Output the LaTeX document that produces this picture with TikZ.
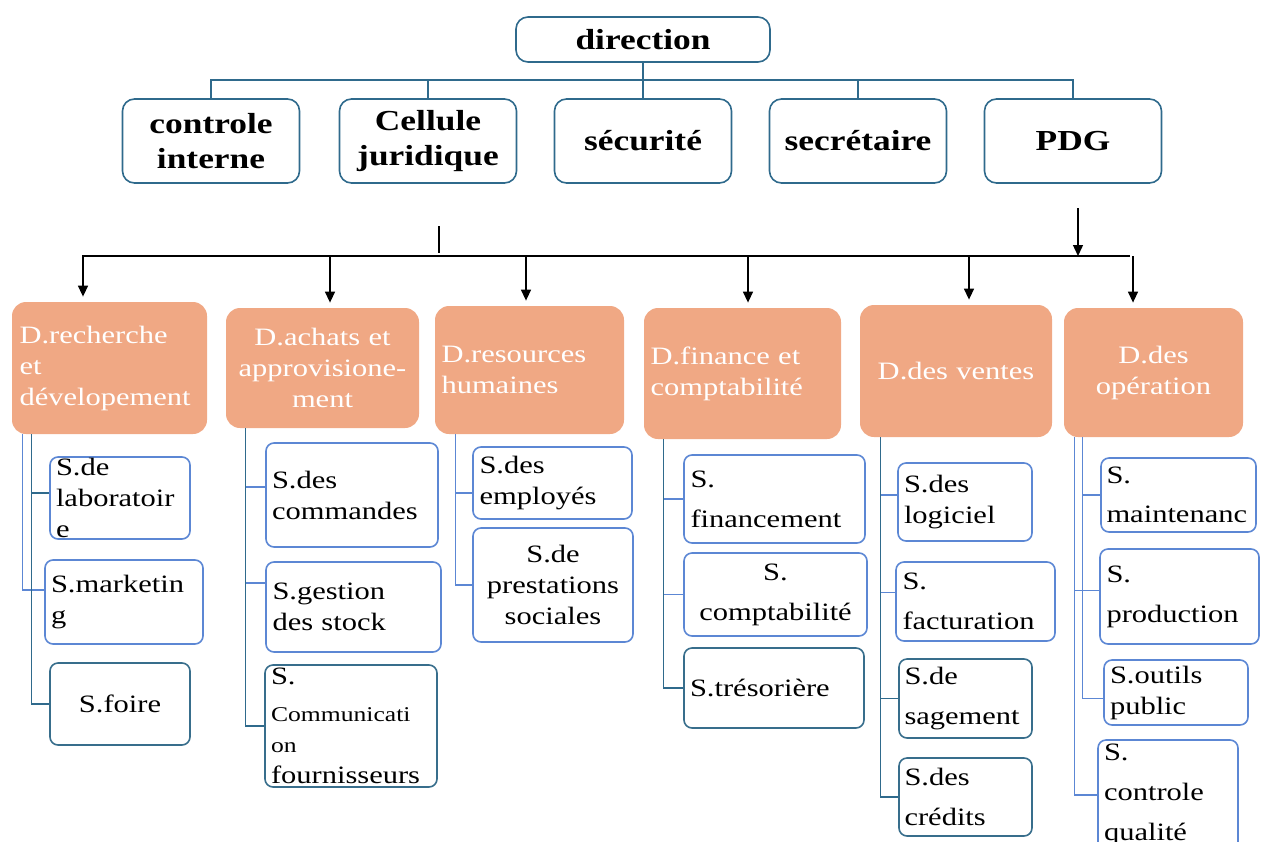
\documentclass[tikz,border=0pt]{standalone}
\usepackage{fontspec}
\setmainfont[FakeStretch=1.22]{Liberation Serif}
\usetikzlibrary{arrows.meta}
\definecolor{toplc}{RGB}{47,106,140}
\definecolor{deptfill}{RGB}{240,168,132}
\definecolor{sblue}{RGB}{92,135,212}
\definecolor{steal}{RGB}{56,110,140}

\begin{document}
\begin{tikzpicture}[x=0.5pt,y=-0.5pt]
	\tikzset{
		topbox/.style={draw=toplc,line width=0.8pt,rounded corners=6pt,minimum width=88.5pt,minimum height=42pt,align=center,font=\fontsize{14.5}{17.5}\selectfont\bfseries},
		dept/.style={fill=deptfill,text=white,rounded corners=7pt,inner sep=3pt,font=\fontsize{12.5}{15.5}\selectfont},
		sbox/.style={draw=sblue,fill=white,line width=0.8pt,rounded corners=4pt,inner xsep=2.5pt,inner ysep=-2pt,align=left,font=\fontsize{12.5}{15.5}\selectfont},
		sboxt/.style={sbox,draw=steal},
		tline/.style={draw=toplc,line width=0.75pt},
		sline/.style={draw=sblue,line width=0.7pt},
		arr/.style={-{Triangle[width=5pt,length=5.5pt]},line width=0.7pt}
	}
	\useasboundingbox (0,0) rectangle (1263,841);
	\node[topbox,minimum width=127pt,minimum height=22.5pt] (dir) at (643,39.5) {direction};
	\node[topbox] (ci)   at (211,141)  {controle\\interne};
	\node[topbox] (cj)   at (428,141)  {Cellule\\juridique};
	\node[topbox] (sec)  at (643,141)  {sécurité};
	\node[topbox] (secr) at (858,141)  {secrétaire};
	\node[topbox] (pdg)  at (1073,141) {PDG};
	\coordinate (tbus) at (643,80);
	\draw[tline] (dir.south) -- (tbus);
	\foreach \n in {ci,cj,sec,secr,pdg}
		\draw[tline] (\n.north) |- (tbus);
	\coordinate (busL) at (82,256);
	\coordinate (busR) at (1130,256);
	\coordinate (cjout) at (439,226);
	\coordinate (pdgout) at (1078,208);
	\draw[line width=0.8pt] (busL) -- (busR);
	\draw[line width=0.8pt] (cjout) -- ([yshift=1.5pt]cjout |- busL);
	\draw[arr] (pdgout) -- (pdgout |- busL);
	\node[dept,minimum width=97.5pt,minimum height=66pt,text width=90pt,align=left]   (rd)  at (109.5,368)  {D.recherche\\et\\dévelopement};
	\node[dept,minimum width=96.5pt,minimum height=60pt,text width=90pt,align=center] (ach) at (322.5,368)  {D.achats et\\approvisione-\\ment};
	\node[dept,minimum width=94.5pt,minimum height=64pt,text width=88pt,align=left]   (rh)  at (529.5,370)  {D.resources\\humaines};
	\node[dept,minimum width=98.5pt,minimum height=65.5pt,text width=92pt,align=left] (fin) at (742.5,373.5) {D.finance et\\comptabilité};
	\node[dept,minimum width=96pt,minimum height=66pt,text width=90pt,align=center]   (ven) at (956,371)    {D.des ventes};
	\node[dept,minimum width=89.5pt,minimum height=64.5pt,text width=83pt,align=center] (op) at (1153.5,372.5) {D.des\\opération};
	\foreach \d/\dx in {rd/-13.25,ach/3.75,rh/-1.75,fin/2.75,ven/6.5,op/-10.25}{
		\path ([xshift=\dx pt]\d.north) coordinate (t);
		\draw[arr] (t |- busL) -- ([yshift=2.5pt]t);
	}
	\node[sbox,minimum width=70pt,minimum height=41pt,text width=64pt] (lab) at (120,498) {S.de\\laboratoir\\e};
	\node[sbox,minimum width=79pt,minimum height=42pt,text width=73pt] (mkt) at (124,602) {S.marketin\\g};
	\node[sboxt,minimum width=70pt,minimum height=41pt,text width=64pt,align=center] (foi) at (120,704) {S.foire};
	\node[sbox,minimum width=86pt,minimum height=52pt,text width=80pt] (cmd) at (352,495) {S.des\\commandes};
	\node[sbox,minimum width=87.5pt,minimum height=45pt,text width=81pt] (stk) at (353.5,607) {S.gestion\\des stock};
	\node[sboxt,minimum width=86pt,minimum height=61pt,text width=80pt] (com) at (351,726) {S.\\[3pt]{\fontsize{10.5}{13}\selectfont Communicati}\\{\fontsize{10.5}{13}\selectfont on}\\fournisseurs};
	\node[sbox,minimum width=79.5pt,minimum height=36pt,text width=73pt] (emp) at (552.5,483) {S.des\\employés};
	\node[sbox,minimum width=80pt,minimum height=57pt,text width=74pt,align=center] (pst) at (553,585) {S.de\\prestations\\sociales};
	\node[sbox,minimum width=90.5pt,minimum height=44pt,text width=84pt] (fnc) at (774.5,499) {S.\\[4.5pt]financement};
	\node[sbox,minimum width=91.5pt,minimum height=41.5pt,text width=85pt,align=center] (cpt) at (775.5,594.5) {S.\\[4.5pt]comptabilité};
	\node[sboxt,minimum width=90pt,minimum height=40pt,text width=84pt] (tre) at (774,688) {S.trésorière};
	\node[sbox,minimum width=67pt,minimum height=39pt,text width=61pt] (log) at (965,502) {S.des\\logiciel};
	\node[sbox,minimum width=79.5pt,minimum height=39.5pt,text width=73pt] (fac) at (975.5,601.5) {S.\\[4.5pt]facturation};
	\node[sboxt,minimum width=66.5pt,minimum height=39.5pt,text width=61pt] (sag) at (965.5,698.5) {S.de\\[4.5pt]sagement};
	\node[sboxt,minimum width=66.5pt,minimum height=39pt,text width=61pt] (cre) at (965.5,797) {S.des\\[4.5pt]crédits};
	\node[sbox,minimum width=77.5pt,minimum height=37pt,text width=72pt] (mnt) at (1178.5,495) {S.\\[4pt]maintenanc};
	\node[sbox,minimum width=79.5pt,minimum height=47.5pt,text width=73pt] (prd) at (1179.5,596.5) {S.\\[4.5pt]production};
	\node[sbox,minimum width=72pt,minimum height=32.5pt,text width=66pt] (out) at (1176,692.5) {S.outils\\public};
	\node[sbox,minimum width=70pt,minimum height=55pt,text width=64pt] (cq) at (1168,795) {S.\\[4.5pt]controle\\[4.5pt]qualité};
	\draw[sline] ([xshift=5.5pt]rd.south west) |- ([yshift=6pt]mkt.west);
	\draw[tline] ([xshift=10pt]rd.south west) |- ([yshift=2.5pt]lab.west);
	\draw[tline] ([xshift=10pt]rd.south west) |- (foi.west);
	\draw[sline] ([xshift=10pt]ach.south west) |- ([yshift=4pt]cmd.west);
	\draw[sline] ([xshift=10pt]ach.south west) |- ([yshift=12pt]stk.west);
	\draw[tline] ([xshift=10pt]ach.south west) |- (com.west);
	\draw[sline] ([xshift=10.5pt]rh.south west) |- ([yshift=-5pt]emp.west);
	\draw[sline] ([xshift=10.5pt]rh.south west) |- (pst.west);
	\draw[sline] ([xshift=10pt]fin.south west) |- (fnc.west);
	\draw[sline] ([xshift=10pt]fin.south west) |- (cpt.west);
	\draw[tline] ([xshift=10pt]fin.south west) |- (tre.west);
	\draw[sline] ([xshift=10.5pt]ven.south west) |- ([yshift=3.5pt]log.west);
	\draw[sline] ([xshift=10.5pt]ven.south west) |- ([yshift=4.5pt]fac.west);
	\draw[tline] ([xshift=10.5pt]ven.south west) |- (sag.west);
	\draw[tline] ([xshift=10.5pt]ven.south west) |- (cre.west);
	\draw[sline] ([xshift=9.5pt]op.south west) |- (mnt.west);
	\draw[sline] ([xshift=9.5pt]op.south west) |- ([yshift=-3pt]out.west);
	\draw[sline] ([xshift=5.5pt]op.south west) |- ([yshift=3pt]prd.west);
	\draw[sline] ([xshift=5.5pt]op.south west) |- (cq.west);
\end{tikzpicture}
\end{document}
